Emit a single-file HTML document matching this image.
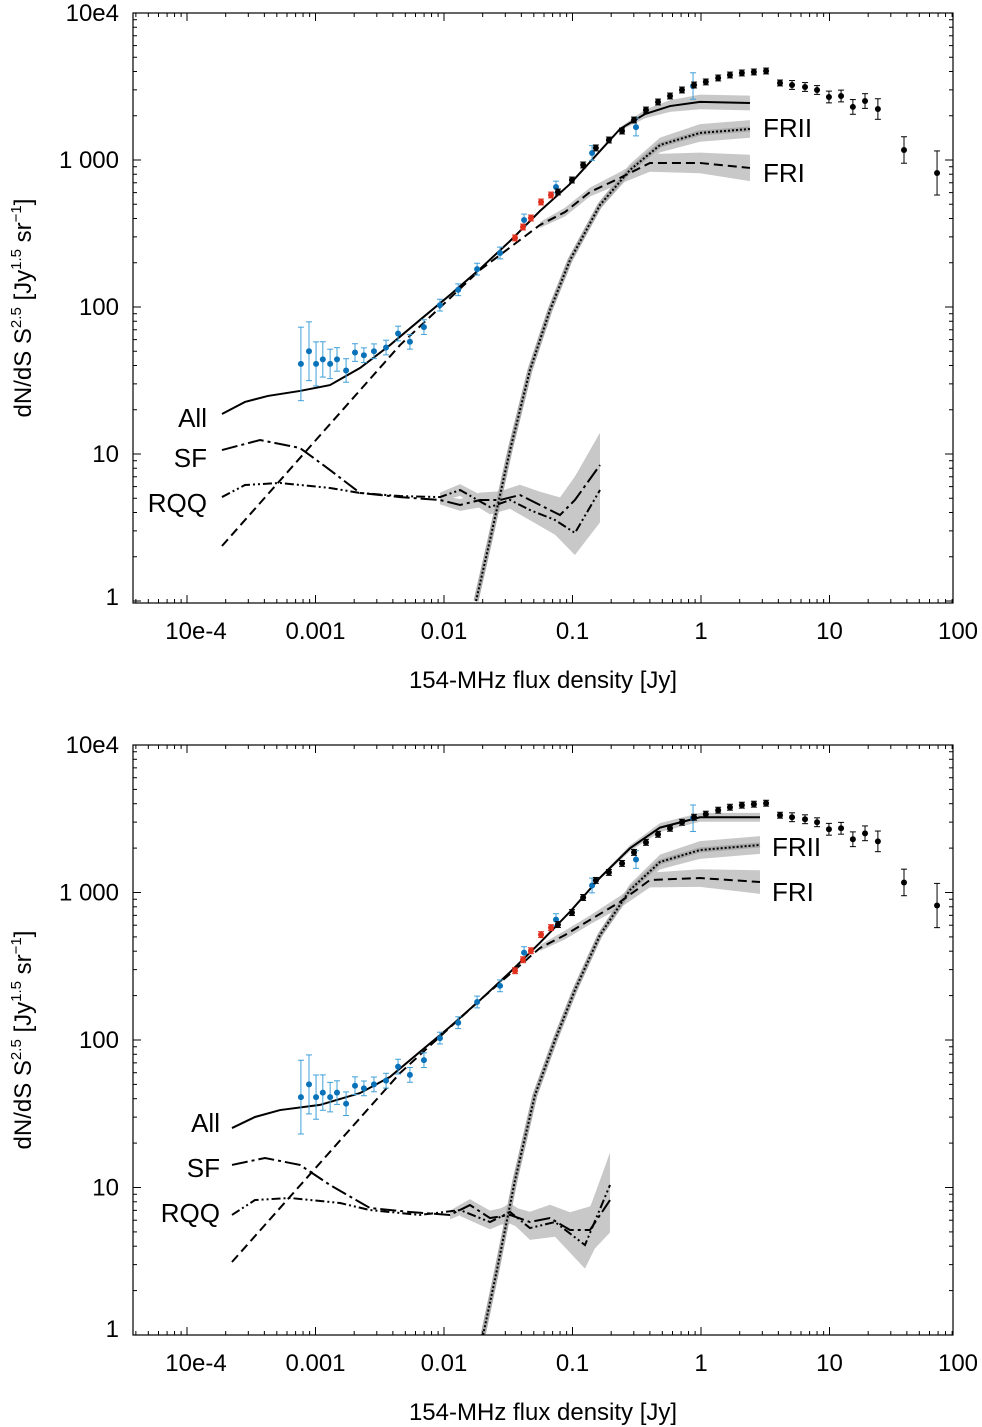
<!DOCTYPE html>
<html><head><meta charset="utf-8">
<style>
html,body{margin:0;padding:0;background:#fff;}
svg{display:block;font-family:"Liberation Sans",Arial,sans-serif;}
</style></head>
<body>
<svg id="chart" width="982" height="1427" viewBox="0 0 982 1427"></svg>
<script>
// ---- observed data (flux density Jy, dN/dS S^2.5) ----
const blackS=[0.077,0.099,0.121,0.152,0.192,0.243,0.301,0.373,0.463,0.574,0.711,0.883,1.09,1.36,1.68,2.08,2.58,3.21,4.12,5.11,6.45,8.0,9.9,12.3,15.2,18.9,23.8,38,68.7];
const blackN=[606,731,925,1208,1368,1575,1871,2188,2481,2725,2994,3238,3397,3614,3786,3909,3970,4031,3342,3238,3138,2994,2683,2725,2296,2519,2222,1170,816];
const blackErr=[0.02,0.02,0.02,0.02,0.02,0.02,0.02,0.02,0.02,0.02,0.02,0.02,0.02,0.02,0.02,0.02,0.02,0.02,0.02,0.03,0.03,0.03,0.04,0.04,0.05,0.05,0.07,0.09,0.15];
const blueS=[0.00077,0.00089,0.00101,0.00114,0.0013,0.00147,0.00173,0.00203,0.00238,0.00285,0.00354,0.00439,0.00543,0.00698,0.0093,0.0129,0.0181,0.0273,0.042,0.0744,0.142,0.312,0.867];
const blueN=[41,50,41,44,41,44,37,49,47,50,53,66,58,73,103,131,181,233,391,655,1116,1675,3187];
const blueErr=[0.25,0.2,0.15,0.12,0.1,0.08,0.08,0.06,0.05,0.05,0.05,0.05,0.05,0.05,0.04,0.04,0.04,0.04,0.04,0.04,0.05,0.06,0.09];
const redS=[0.0357,0.0412,0.0475,0.0569,0.068];
const redN=[295,350,403,518,578];

// ---- model curves, top panel (log10 S, log10 N) ----
const tAllX=[-3.728,-3.549,-3.370,-3.121,-2.887,-2.654,-2.420,-2.187,-1.953,-1.720,-1.486,-1.253,-1.019,-0.786,-0.630,-0.436,-0.241,-0.008,0.381];
const tAllY=[1.272,1.354,1.395,1.429,1.469,1.585,1.741,1.912,2.082,2.259,2.449,2.653,2.837,3.061,3.211,3.313,3.367,3.395,3.388];
const tAllB=[0,0,0,0,0,0,0,0,0,0,0,0,0,0,0.01,0.03,0.04,0.05,0.05];
const tFRIX=[-3.728,-2.342,-1.720,-1.253,-1.058,-0.864,-0.630,-0.397,-0.008,0.381];
const tFRIY=[0.374,1.741,2.252,2.558,2.646,2.782,2.878,2.980,2.980,2.946];
const tFRIB=[0,0,0,0.02,0.03,0.03,0.04,0.06,0.07,0.09];
const tFRIIX=[-1.751,-1.642,-1.486,-1.331,-1.175,-1.019,-0.786,-0.553,-0.319,-0.008,0.381];
const tFRIIY=[0,0.415,1.027,1.571,1.980,2.320,2.694,2.932,3.102,3.184,3.211];
const tFRIIB=[0.02,0.02,0.02,0.02,0.02,0.02,0.03,0.04,0.05,0.06,0.06];
const tSFX=[-3.728,-3.432,-3.121,-2.887,-2.654,-2.342,-2.031,-1.875,-1.720,-1.564,-1.409,-1.253,-1.097,-0.981,-0.786];
const tSFY=[1.027,1.095,1.041,0.891,0.735,0.707,0.687,0.653,0.687,0.687,0.721,0.653,0.585,0.687,0.925];
const tSFB=[0,0,0,0,0,0,0.03,0.04,0.05,0.06,0.07,0.09,0.12,0.16,0.22];
const tRQX=[-3.728,-3.549,-3.276,-2.887,-2.654,-2.342,-2.031,-1.875,-1.642,-1.486,-1.331,-1.136,-0.981,-0.786];
const tRQY=[0.707,0.789,0.803,0.769,0.735,0.714,0.707,0.755,0.639,0.687,0.619,0.551,0.463,0.755];
const tRQB=[0,0,0,0,0,0,0.03,0.04,0.05,0.06,0.07,0.1,0.15,0.22];

// ---- model curves, bottom panel ----
const bAllX=[-3.650,-3.471,-3.276,-2.965,-2.654,-2.420,-2.187,-1.953,-1.720,-1.486,-1.253,-1.019,-0.786,-0.553,-0.319,-0.008,0.459];
const bAllY=[1.403,1.478,1.525,1.56,1.64,1.75,1.92,2.09,2.27,2.46,2.66,2.87,3.10,3.30,3.44,3.51,3.51];
const bAllB=[0,0,0,0,0,0,0,0,0,0,0,0,0.01,0.02,0.03,0.03,0.03];
const bFRIX=[-3.650,-2.342,-1.720,-1.253,-1.058,-0.864,-0.630,-0.397,-0.008,0.459];
const bFRIY=[0.495,1.776,2.271,2.624,2.712,2.814,2.936,3.085,3.098,3.071];
const bFRIB=[0,0,0,0.02,0.03,0.03,0.04,0.05,0.06,0.08];
const bFRIIX=[-1.696,-1.588,-1.447,-1.292,-1.136,-0.981,-0.786,-0.553,-0.319,-0.008,0.459];
const bFRIIY=[0,0.441,1.051,1.627,2.0,2.339,2.712,3.017,3.207,3.288,3.322];
const bFRIIB=[0.02,0.02,0.02,0.02,0.02,0.02,0.03,0.04,0.05,0.06,0.06];
const bSFX=[-3.650,-3.393,-3.121,-2.887,-2.576,-2.265,-1.953,-1.798,-1.642,-1.486,-1.331,-1.175,-1.019,-0.864,-0.708];
const bSFY=[1.153,1.2,1.153,1.017,0.861,0.834,0.814,0.881,0.793,0.814,0.766,0.793,0.712,0.712,0.915];
const bSFB=[0,0,0,0,0,0,0.03,0.04,0.05,0.06,0.07,0.09,0.12,0.16,0.22];
const bRQX=[-3.650,-3.471,-3.198,-2.809,-2.576,-2.187,-1.875,-1.642,-1.486,-1.331,-1.136,-0.903,-0.708];
const bRQY=[0.814,0.915,0.929,0.895,0.847,0.814,0.847,0.766,0.834,0.725,0.766,0.61,1.017];
const bRQB=[0,0,0,0,0,0,0.04,0.05,0.06,0.08,0.1,0.16,0.22];

const xTickVals=[-4,-3,-2,-1,0,1,2];
const xTickLabels=["10e-4","0.001","0.01","0.1","1","10","100"];
const yTickVals=[0,1,2,3,4];
const yTickLabels=["1","10","100","1 000","10e4"];

const NS="http://www.w3.org/2000/svg";
const svg=document.getElementById('chart');
function mk(tag,attrs,parent){const e=document.createElementNS(NS,tag);for(const k in attrs)e.setAttribute(k,attrs[k]);(parent||svg).appendChild(e);return e;}

function panel(cfg){
  const L=133,R=953,T=cfg.top,B=cfg.bottom;
  const x1=701,dx=128.5;
  const X=l=>x1+l*dx;
  const Y=l=>cfg.y0-l*cfg.dy;
  const g=mk('g',{});
  
  
  const cp='clip-'+cfg.name;
  const defs=mk('defs',{},g);
  const c=mk('clipPath',{id:cp},defs);mk('rect',{x:L,y:T,width:R-L,height:B-T},c);
  const plot=mk('g',{'clip-path':'url(#'+cp+')'},g);
  function band(xs,ys,bs,name){
    let up=[],dn=[];
    for(let i=0;i<xs.length;i++){if(bs[i]<=0)continue;up.push(X(xs[i])+','+Y(ys[i]+bs[i]));dn.unshift(X(xs[i])+','+Y(ys[i]-bs[i]));}
    if(up.length<2)return;
    const p=mk('polygon',{points:up.concat(dn).join(' '),fill:'#c8c8c8',stroke:'none'},plot);
    
    
  }
  function line(xs,ys,dash,name,w){
    const pts=xs.map((v,i)=>X(v)+','+Y(ys[i])).join(' ');
    const p=mk('polyline',{points:pts,fill:'none',stroke:'#000','stroke-width':w||2,'stroke-dasharray':dash||'none'},plot);
    
    
  }
  const cv=cfg.curves;
  band(cv.sf[0],cv.sf[1],cv.sf[2],'sf');
  band(cv.rq[0],cv.rq[1],cv.rq[2],'rqq');
  band(cv.fri[0],cv.fri[1],cv.fri[2],'fri');
  band(cv.frii[0],cv.frii[1],cv.frii[2],'frii');
  band(cv.all[0],cv.all[1],cv.all[2],'all');
  mk('polyline',{points:cv.frii[0].map((v,i)=>X(v)+','+Y(cv.frii[1][i])).join(' '),fill:'none',stroke:'#a8a8a8','stroke-width':5},plot);
  line(cv.frii[0],cv.frii[1],'2,2','frii',2);
  line(cv.fri[0],cv.fri[1],'9,5','fri',2);
  line(cv.sf[0],cv.sf[1],'16,4,3,4','sf',2);
  line(cv.rq[0],cv.rq[1],'9,3,2,3,2,3','rqq',2);
  line(cv.all[0],cv.all[1],null,'all',2);
  function pts(S,N,E,col,ecol,name){
    for(let i=0;i<S.length;i++){
      const px=X(Math.log10(S[i])),py=Y(Math.log10(N[i]));
      const e=E?E[i]:0.02;
      const gg=mk('g',{},plot);
      
      
      const ya=Y(Math.log10(N[i])+e),yb=Y(Math.log10(N[i])-e);
      mk('line',{x1:px,x2:px,y1:ya,y2:yb,stroke:ecol,'stroke-width':1},gg);
      mk('line',{x1:px-3,x2:px+3,y1:ya,y2:ya,stroke:ecol,'stroke-width':1},gg);
      mk('line',{x1:px-3,x2:px+3,y1:yb,y2:yb,stroke:ecol,'stroke-width':1},gg);
      mk('circle',{cx:px,cy:py,r:3,fill:col},gg);
    }
  }
  pts(blueS,blueN,blueErr,'#0a72b8','#3fa0d8','blue-data');
  pts(redS,redN,null,'#e0301e','#e0301e','red-data');
  pts(blackS,blackN,blackErr,'#000','#000','black-data');
  const fr=mk('rect',{x:L,y:T,width:R-L,height:B-T,fill:'none',stroke:'#000','stroke-width':1.2},g);
  
  
  for(let d=-5;d<=2;d++)for(let m=1;m<10;m++){
    const px=X(d+Math.log10(m));if(px<L||px>R)continue;const len=m==1?8:4;
    mk('line',{x1:px,x2:px,y1:B,y2:B-len,stroke:'#000'},g);mk('line',{x1:px,x2:px,y1:T,y2:T+len,stroke:'#000'},g);
  }
  for(let d=0;d<=4;d++)for(let m=1;m<10;m++){
    const py=Y(d+Math.log10(m));if(py<T-0.5||py>B+0.5)continue;const len=m==1?8:4;
    mk('line',{x1:L,x2:L+len,y1:py,y2:py,stroke:'#000'},g);mk('line',{x1:R,x2:R-len,y1:py,y2:py,stroke:'#000'},g);
  }
  xTickVals.forEach((v,i)=>{
    const t=mk('text',{x:X(v)+(i==0?9:0),y:B+36,'text-anchor':'middle','font-size':24},g);t.textContent=xTickLabels[i];
    
    
  });
  yTickVals.forEach((v,i)=>{
    let py=Y(v)+8; if(v==0)py=B+2; if(v==4)py=T+8;
    const t=mk('text',{x:119,y:py,'text-anchor':'end','font-size':24},g);t.textContent=yTickLabels[i];
    
    
  });
  const xt=mk('text',{x:543,y:B+85,'text-anchor':'middle','font-size':24},g);xt.textContent='154-MHz flux density [Jy]';
  
  
  const yt=mk('text',{x:0,y:0,'text-anchor':'middle','font-size':24,transform:'translate(31,'+cfg.ymid+') rotate(-90)'},g);
  yt.innerHTML='dN/dS S<tspan font-size="15" dy="-10">2.5</tspan><tspan dy="10"> [Jy</tspan><tspan font-size="15" dy="-10">1.5</tspan><tspan dy="10"> sr</tspan><tspan font-size="15" dy="-10">−1</tspan><tspan dy="10">]</tspan>';
  
  
  cfg.labels.forEach(l=>{
    const t=mk('text',{x:l[1],y:l[2],'text-anchor':l[3],'font-size':26},g);t.textContent=l[0];
    
    
  });
}

panel({name:'top-panel',top:13,bottom:603,y0:601,dy:147,ymid:308,
  curves:{all:[tAllX,tAllY,tAllB],fri:[tFRIX,tFRIY,tFRIB],frii:[tFRIIX,tFRIIY,tFRIIB],sf:[tSFX,tSFY,tSFB],rq:[tRQX,tRQY,tRQB]},
  labels:[['All',207,427,'end'],['SF',207,467,'end'],['RQQ',207,512,'end'],['FRII',763,137,'start'],['FRI',763,182,'start']]});
panel({name:'bottom-panel',top:745,bottom:1335,y0:1335,dy:147.5,ymid:1040,
  curves:{all:[bAllX,bAllY,bAllB],fri:[bFRIX,bFRIY,bFRIB],frii:[bFRIIX,bFRIIY,bFRIIB],sf:[bSFX,bSFY,bSFB],rq:[bRQX,bRQY,bRQB]},
  labels:[['All',220,1132,'end'],['SF',220,1177,'end'],['RQQ',220,1222,'end'],['FRII',772,856,'start'],['FRI',772,901,'start']]});
</script>
</body></html>
